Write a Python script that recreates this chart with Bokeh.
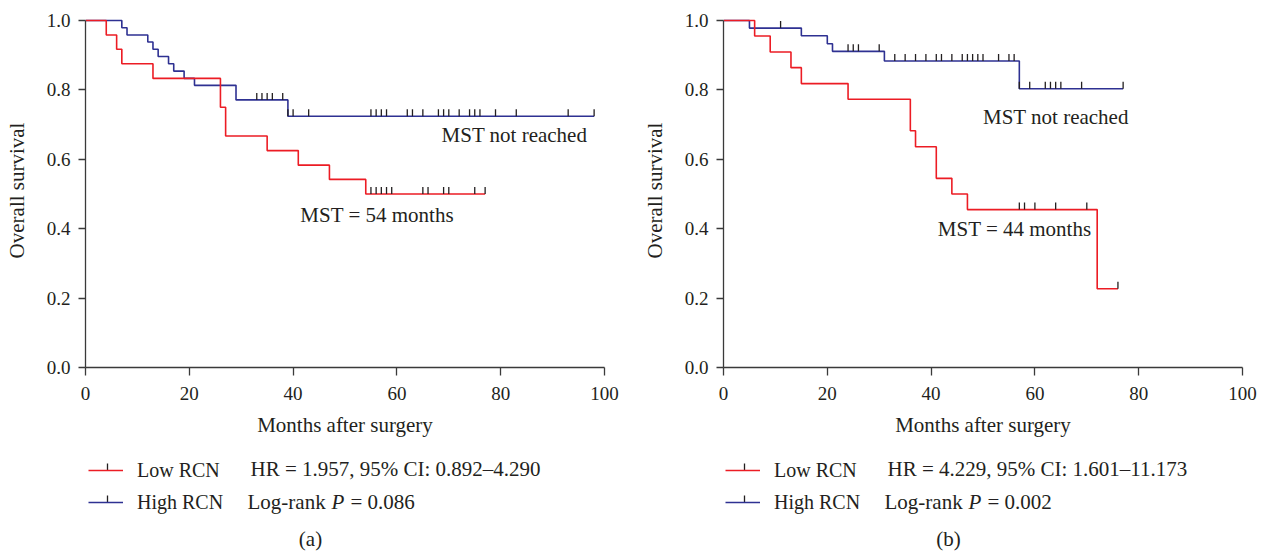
import numpy as np
from bokeh.plotting import figure
from bokeh.models import (Range1d, FixedTicker, NumeralTickFormatter, Label,
                          Legend, LegendItem)
from bokeh.layouts import row, column
from bokeh.embed import file_html
from bokeh.resources import INLINE

# ---------------- data ----------------
# Panel (a)
a_low_t = [0, 4, 6, 7, 13, 26, 27, 35, 41, 47, 54, 77]
a_low_s = [1.0, 0.958, 0.917, 0.875, 0.833, 0.750, 0.667, 0.625, 0.583, 0.542, 0.500, 0.500]
a_low_cens = [55, 56, 57, 58, 59, 65, 66, 69, 70, 75, 77]
a_high_t = [0, 7, 8, 12, 13, 14, 16, 17, 19, 21, 29, 39, 98]
a_high_s = [1.0, 0.979, 0.958, 0.938, 0.917, 0.896, 0.875, 0.854, 0.833, 0.813, 0.771, 0.724, 0.724]
a_high_cens = [33, 34, 35, 36, 38, 39, 40, 43, 55, 56, 57, 58, 62, 63, 65, 68, 69, 70,
               72, 74, 75, 76, 79, 83, 93, 98]
a_texts = ["MST not reached", "MST = 54 months",
           "HR = 1.957, 95% CI: 0.892\u20134.290", "= 0.086", "(a)"]

# Panel (b)
b_low_t = [0, 6, 9, 13, 15, 24, 36, 37, 41, 44, 47, 72, 76]
b_low_s = [1.0, 0.955, 0.909, 0.864, 0.818, 0.773, 0.682, 0.636, 0.545, 0.500, 0.455, 0.227, 0.227]
b_low_cens = [57, 58, 60, 64, 70, 76]
b_high_t = [0, 5, 15, 20, 21, 31, 57, 77]
b_high_s = [1.0, 0.978, 0.956, 0.933, 0.911, 0.883, 0.803, 0.803]
b_high_cens = [11, 24, 25, 26, 30, 33, 35, 37, 39, 41, 42, 44, 46, 47, 48, 49, 50, 53,
               55, 56, 57, 59, 62, 63, 64, 65, 69, 77]
b_texts = ["MST not reached", "MST = 44 months",
           "HR = 4.229, 95% CI: 1.601\u201311.173", "= 0.002", "(b)"]

series_names = ["Low RCN", "High RCN"]
x_ticks = [0, 20, 40, 60, 80, 100]
y_ticks = [0.0, 0.2, 0.4, 0.6, 0.8, 1.0]

# ---------------- style ----------------
RED = "#EC1C24"
BLUE = "#2E3192"
TXT = "#231F20"
AX = "#3A3A3A"
FONT = "Liberation Serif"
FS = "21px"
W = 632
H_MAIN, H_LEG = 450, 105
BORDER_TOP = 13
BORDER_BOTTOM = H_MAIN - 367
Y_END = 1.02
PX_PER_UNIT = (H_MAIN - BORDER_TOP - BORDER_BOTTOM) / Y_END
TICK_PX = 7
BASE_SHIFT = 7  # px: lift labels so their baseline sits where intended


def censor_y(t_arr, s_arr, cens):
    t_arr = np.asarray(t_arr, float)
    s_arr = np.asarray(s_arr, float)
    idx = np.searchsorted(t_arr, np.asarray(cens, float), side="right") - 1
    return s_arr[idx] + (TICK_PX / 2.0) / PX_PER_UNIT


def main_plot(low_t, low_s, low_c, high_t, high_s, high_c, texts, left, right, pos):
    p = figure(width=W, height=H_MAIN, output_backend="svg", toolbar_location=None,
               x_range=Range1d(0, 100), y_range=Range1d(0, Y_END),
               min_border_left=left, min_border_right=right,
               min_border_top=BORDER_TOP, min_border_bottom=BORDER_BOTTOM,
               background_fill_color="white", border_fill_color="white")
    p.frame_align = False
    p.outline_line_color = None
    p.grid.visible = False

    p.step(high_t, high_s, mode="after", line_color=BLUE, line_width=1.6)
    p.step(low_t, low_s, mode="after", line_color=RED, line_width=1.6)
    p.scatter(high_c, censor_y(high_t, high_s, high_c), marker="dash",
              angle=np.pi / 2, size=TICK_PX, line_color=TXT, line_width=1.3)
    p.scatter(low_c, censor_y(low_t, low_s, low_c), marker="dash",
              angle=np.pi / 2, size=TICK_PX, line_color=TXT, line_width=1.3)

    for ax in (p.xaxis[0], p.yaxis[0]):
        ax.axis_line_color = AX
        ax.axis_line_width = 1.3
        ax.major_tick_line_color = AX
        ax.major_tick_line_width = 1.3
        ax.major_tick_in = 0
        ax.minor_tick_in = 0
        ax.minor_tick_out = 0
        ax.major_label_text_font = FONT
        ax.major_label_text_font_size = "19px"
        ax.major_label_text_color = TXT
        ax.axis_label_text_font = FONT
        ax.axis_label_text_font_size = FS
        ax.axis_label_text_font_style = "normal"
        ax.axis_label_text_color = TXT
    p.xaxis.ticker = FixedTicker(ticks=x_ticks)
    p.yaxis.ticker = FixedTicker(ticks=y_ticks)
    p.yaxis.formatter = NumeralTickFormatter(format="0.0")
    p.yaxis.bounds = (0, 1)
    p.xaxis.major_tick_out = 8
    p.yaxis.major_tick_out = 7
    p.xaxis.major_label_standoff = 11
    p.yaxis.major_label_standoff = 8
    p.xaxis.axis_label_standoff = 10
    p.yaxis.axis_label_standoff = 15
    p.xaxis.axis_label = "Months after surgery"
    p.yaxis.axis_label = "Overall survival"

    dy = BASE_SHIFT / PX_PER_UNIT
    for txt, (x, y) in ((texts[0], pos["nr"]), (texts[1], pos["mst"])):
        p.add_layout(Label(x=x, y=y + dy, text=txt, text_font=FONT, text_font_size=FS,
                           text_color=TXT, text_baseline="alphabetic"))
    return p


def legend_plot(texts, pos):
    q = figure(width=W, height=H_LEG, output_backend="svg", toolbar_location=None,
               x_range=Range1d(0, W), y_range=Range1d(H_LEG, 0),
               x_axis_location=None, y_axis_location=None,
               min_border=0, min_border_left=0, min_border_right=0,
               min_border_top=0, min_border_bottom=0,
               background_fill_color="white", border_fill_color="white")
    q.frame_align = False
    q.outline_line_color = None
    q.grid.visible = False

    r_lo = q.line(x=[np.nan, np.nan], y=[np.nan, np.nan], line_color=RED, line_width=1.6)
    r_hi = q.line(x=[np.nan, np.nan], y=[np.nan, np.nan], line_color=BLUE, line_width=1.6)
    legend = Legend(items=[LegendItem(label=series_names[0], renderers=[r_lo]),
                           LegendItem(label=series_names[1], renderers=[r_hi])],
                    location=(pos["leg_x"], 41), orientation="vertical",
                    glyph_width=35, glyph_height=24, label_height=24,
                    label_standoff=14, spacing=8, padding=0, margin=0,
                    border_line_color=None, background_fill_alpha=0,
                    label_text_font=FONT, label_text_font_size="20px",
                    label_text_color=TXT)
    q.add_layout(legend, "center")
    # small censor tick drawn on each legend sample
    tx = pos["leg_x"] + 19
    q.segment(x0=[tx, tx], y0=[20, 52], x1=[tx, tx], y1=[13, 45],
              line_color=TXT, line_width=1.3)

    def lab(text, x, y, style="normal", align="left"):
        q.add_layout(Label(x=x, y=y - BASE_SHIFT, text=text, text_font=FONT,
                           text_font_size=FS, text_color=TXT, text_font_style=style,
                           text_align=align, text_baseline="alphabetic"))

    lab(texts[2], pos["hr_x"], 25)
    lab("Log-rank", pos["lr_x"], 58)
    lab("P", pos["lr_x"] + 84, 58, style="italic")
    lab(texts[3], pos["lr_x"] + 103, 58)
    lab(texts[4], pos["cap_x"], 95, align="center")
    return q


pa = main_plot(a_low_t, a_low_s, a_low_cens, a_high_t, a_high_s, a_high_cens, a_texts,
               left=85, right=28, pos=dict(nr=(68.6, 0.649), mst=(41.4, 0.419)))
la = legend_plot(a_texts, pos=dict(leg_x=88, hr_x=250, lr_x=247, cap_x=310))
pb = main_plot(b_low_t, b_low_s, b_low_cens, b_high_t, b_high_s, b_high_cens, b_texts,
               left=91, right=22, pos=dict(nr=(50.0, 0.702), mst=(41.3, 0.378)))
lb = legend_plot(b_texts, pos=dict(leg_x=93, hr_x=255, lr_x=252, cap_x=316))

layout = row(column(pa, la), column(pb, lb))
open("out.html", "w").write(file_html(layout, INLINE))
